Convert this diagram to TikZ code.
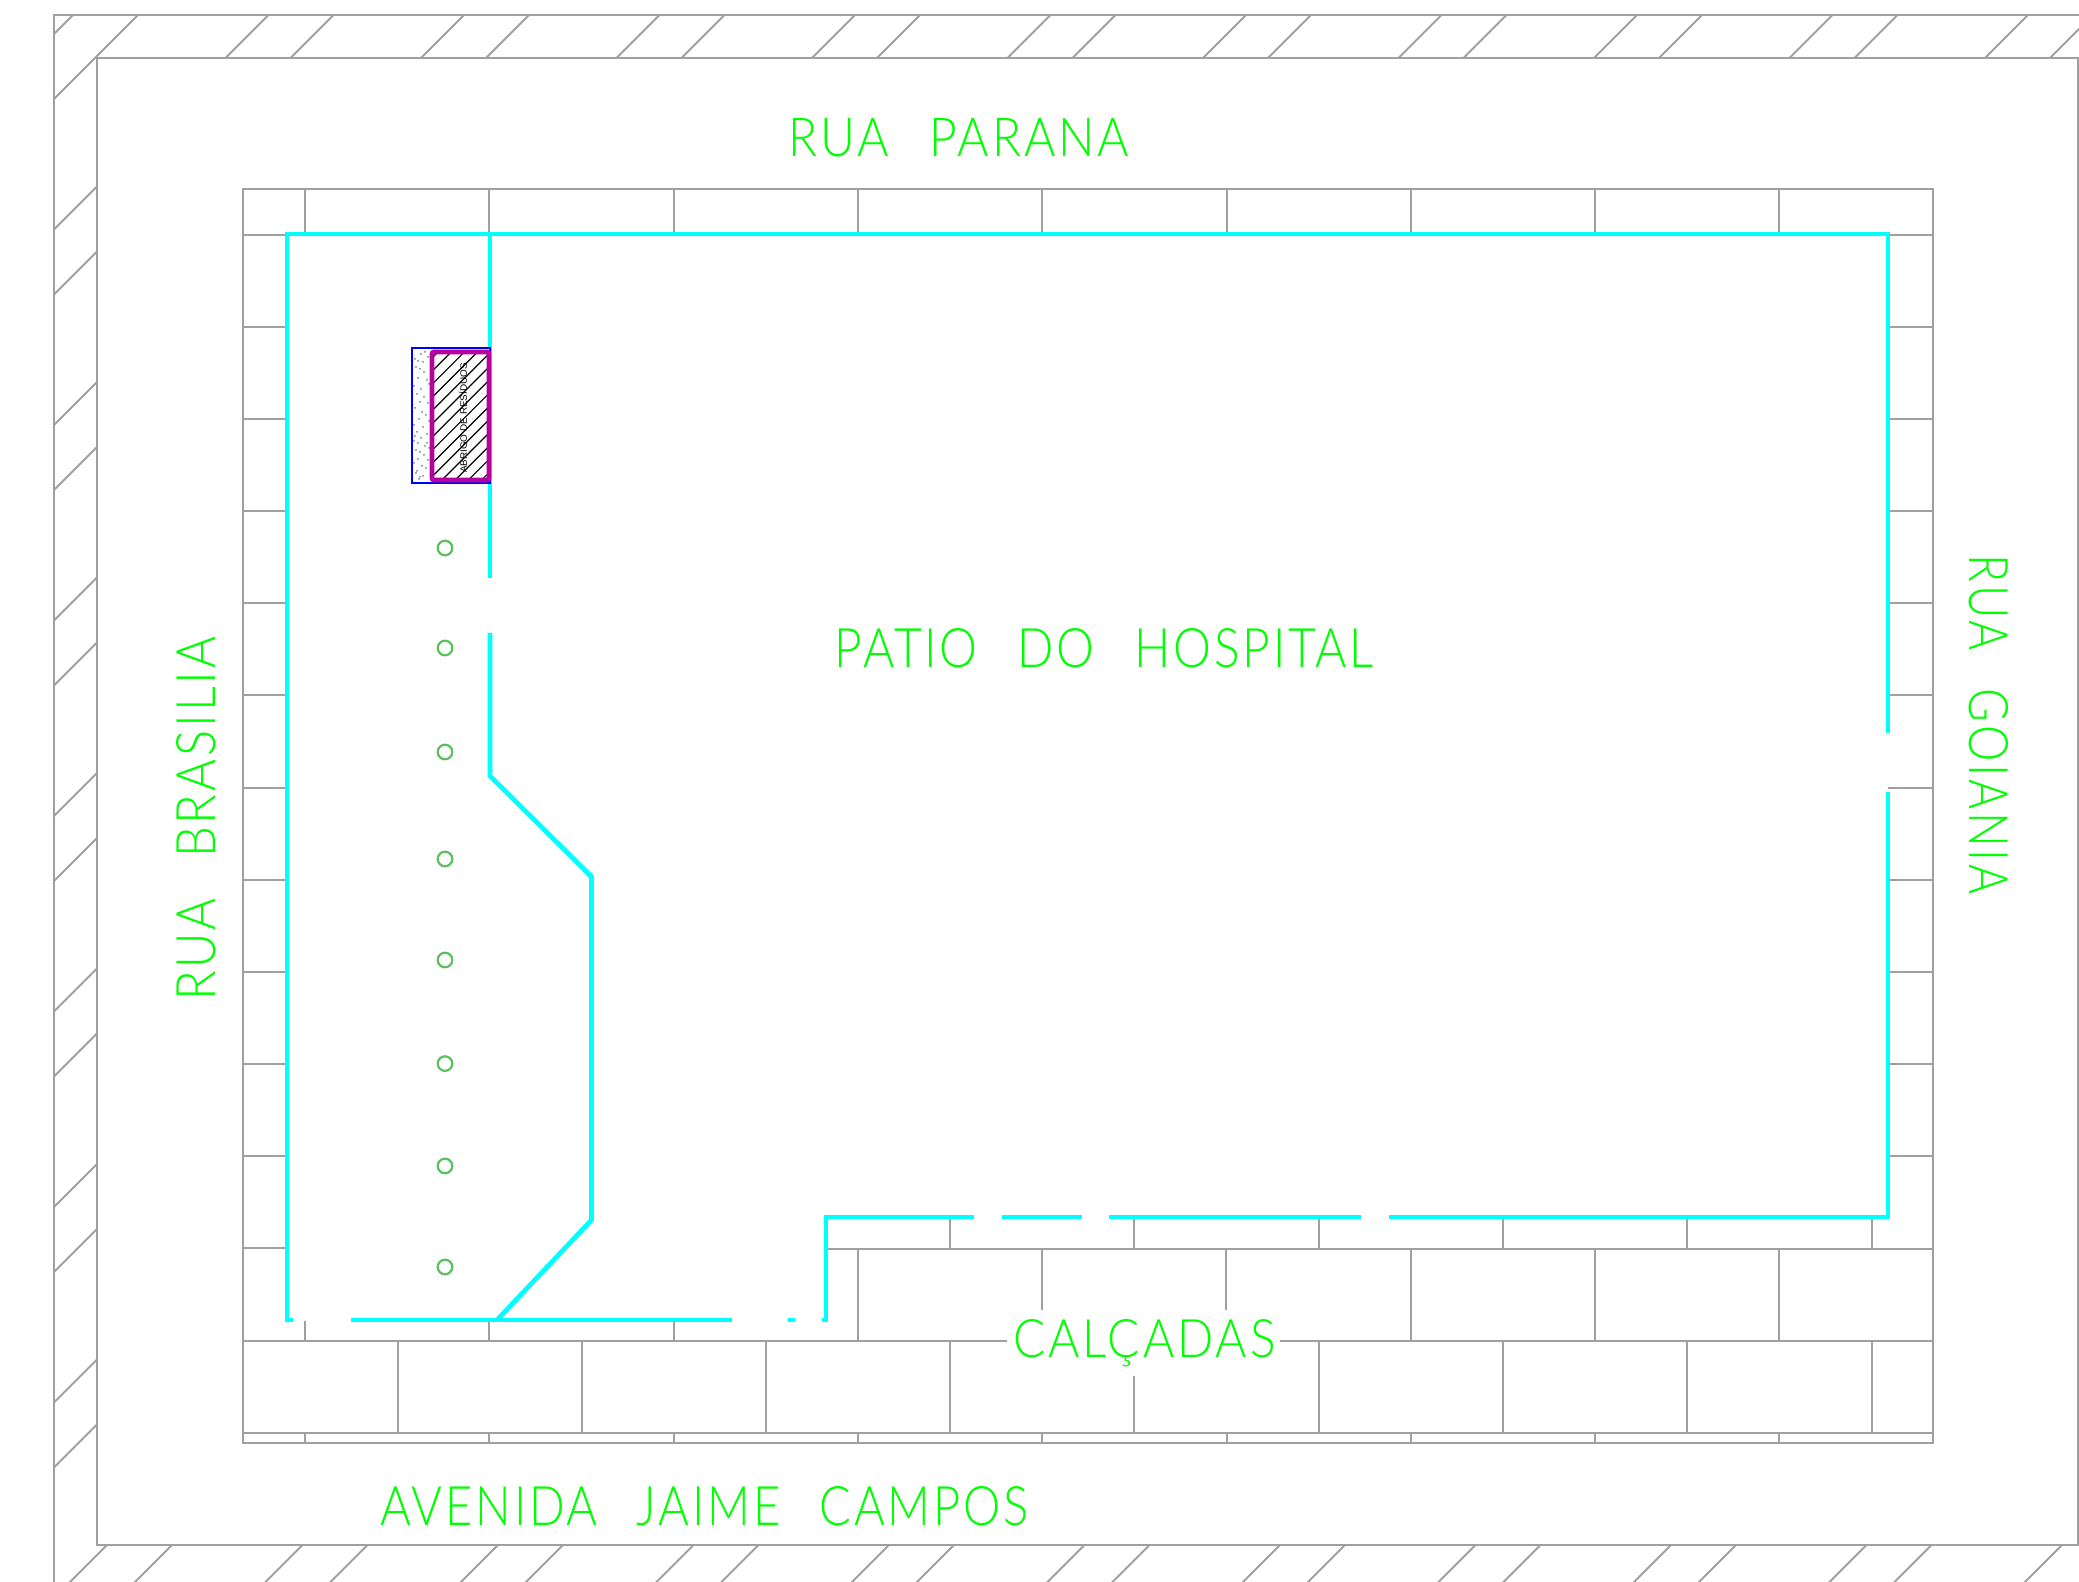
\documentclass[tikz,border=0pt]{standalone}
\usepackage{fontspec}
\usepackage{graphicx}
\setmainfont{Lato Light}
\newfontfamily\cadfont[LetterSpace=6]{Lato Light}
\newfontfamily\smallfont{Liberation Sans}
\definecolor{wallgray}{HTML}{A0A0A0}
\definecolor{cyanwall}{HTML}{00FFFF}
\definecolor{cadgreen}{HTML}{00FF00}
\definecolor{treegreen}{HTML}{5CBF60}
\definecolor{shelter}{HTML}{B800A0}
\definecolor{speck}{HTML}{80808F}
\tikzset{
  grayline/.style={draw=wallgray,line width=1pt},
  outerline/.style={draw=wallgray,line width=1.15pt},
  wall/.style={draw=cyanwall,line width=2.4pt,line cap=butt},
  label/.style={text=cadgreen,inner sep=0pt,outer sep=0pt,anchor=center},
  tree/.style={draw=treegreen,line width=1.1pt},
}
\newcommand{\cadtext}[3]{\resizebox{#1pt}{#2pt}{\cadfont #3}}
\begin{document}
\begin{tikzpicture}[x=0.5pt,y=-0.5pt]
\useasboundingbox (0,0) rectangle (2079,1582);
% outer hatched band
\begin{scope}[even odd rule]
  \clip (54,15) rectangle (2079,1582) (97,58) rectangle (2078,1545);
  \foreach \k in {0,...,19}{
    \pgfmathsetmacro{\sa}{88+195.5*\k}
    \pgfmathsetmacro{\sb}{153+195.5*\k}
    \draw[grayline] (\sa-0,0) -- (\sa-1600,1600);
    \draw[grayline] (\sb-0,0) -- (\sb-1600,1600);
  }
\end{scope}
\draw[outerline] (54,1582) -- (54,15) -- (2079,15);
\draw[grayline] (97,1545) -- (97,58) -- (2078,58) -- (2078,1545) -- cycle;
% paving block
\draw[grayline] (243,189) rectangle (1933,1443);
% top row ticks
\foreach \k in {0,...,8}{
  \pgfmathsetmacro{\xx}{305+184.3*\k}
  \draw[grayline] (\xx,189) -- (\xx,234);
  \draw[grayline] (\xx,1433) -- (\xx,1443);
}
% side courses
\foreach \k in {0,...,11}{
  \pgfmathsetmacro{\yy}{235+92.1*\k}
  \draw[grayline] (243,\yy) -- (287,\yy);
}
\foreach \k in {0,...,10}{
  \pgfmathsetmacro{\yy}{235+92.1*\k}
  \draw[grayline] (1888,\yy) -- (1933,\yy);
}
% bottom courses
\draw[grayline] (826,1249) -- (1933,1249);
\draw[grayline] (243,1341) -- (1007,1341);
\draw[grayline] (1280,1341) -- (1933,1341);
\draw[grayline] (243,1433) -- (1933,1433);
\foreach \xx in {950,1134.3,1318.6,1503,1687,1871.5}
  \draw[grayline] (\xx,1218) -- (\xx,1249);
\foreach \xx in {857.6,1595,1779,1410.6}
  \draw[grayline] (\xx,1249) -- (\xx,1341);
\foreach \xx in {1042,1226}
  \draw[grayline] (\xx,1249) -- (\xx,1310);
\foreach \xx in {305,489,673.5}
  \draw[grayline] (\xx,1321) -- (\xx,1341);
\foreach \xx in {397.7,582,766,950,1319,1503,1687,1871.5}
  \draw[grayline] (\xx,1341) -- (\xx,1433);
\draw[grayline] (1134.3,1376) -- (1134.3,1433);
% walls
\draw[wall] (293,1320) -- (287,1320) -- (287,234) -- (1888,234) -- (1888,733);
\draw[wall] (1888,792) -- (1888,1217) -- (1389,1217);
\draw[wall] (1361,1217) -- (1109,1217);
\draw[wall] (1082,1217) -- (1002,1217);
\draw[wall] (974,1217) -- (826,1217) -- (826,1320) -- (822,1320);
\draw[wall] (795,1320) -- (788,1320);
\draw[wall] (732,1320) -- (351,1320);
\draw[wall] (490,234) -- (490,578);
\draw[wall] (490,633) -- (490,776) -- (591.5,876.6) -- (591.5,1220) -- (497,1320);
% shelter
\fill[white] (412,348) rectangle (489,483);
\draw[draw=blue,line width=0.6pt] (412,348) rectangle (490,483);
\foreach \px/\py in {421/354,425/352,415/359,418/361,423/362,428/357,416/367,420/369,424/372,418/378,427/380,414/386,421/389,429/384,417/394,424/397,420/402,428/403,415/408,422/412,426/415,419/419,429/421,414/425,423/427,417/432,427/434,421/438,414/441,418/443,425/446,429/448,416/450,420/452,424/455,418/459,428/460,414/463,422/466,426/468,417/471,420/477,419/479,423/476,416/473,427/443,415/436}
  \fill[speck] (\px,\py) circle (1);
\begin{scope}
  \clip (432,352) rectangle (489,480);
  \foreach \k in {0,...,15}{
    \pgfmathsetmacro{\sa}{790+13.2*\k}
    \draw[black,line width=0.6pt] (\sa,0) -- (\sa-800,800);
  }
\end{scope}
\draw[draw=shelter,line width=2.4pt,rounded corners=1pt] (432,352) rectangle (489,480);
\node[inner sep=0pt,text=black,rotate=90] (abrigo) at (463,418) {\resizebox{55pt}{4pt}{\smallfont ABRIGO DE RESÍDUOS}};
% lamp posts
\foreach \yy [count=\n] in {548,648,752,859,960,1063.6,1166,1267}
  \draw[tree] (445,\yy) circle (7.3);
% labels
\node[label] (parana) at (959,137.5) {\cadtext{170}{19}{RUA\ \ \,PARANA}};
\node[label] (patio) at (1104.5,648.5) {\cadtext{269.5}{19.5}{PATIO\ \ \,DO\ \ \,HOSPITAL}};
\node[label] (avenida) at (704.5,1506.5) {\cadtext{324}{19.5}{AVENIDA\ \ \,JAIME\ \ \,CAMPOS}};
\node[label,anchor=base] (calcadas) at (1144.5,1357) {\cadtext{131}{19}{CALÇADAS}};
\node[label,rotate=90] (brasilia) at (196.5,818.5) {\cadtext{182}{19.5}{RUA\ \ \,BRASILIA}};
\node[label,rotate=-90] (goiania) at (1988.5,724.5) {\cadtext{170}{19.5}{RUA\ \ \,GOIANIA}};
\end{tikzpicture}
\end{document}
